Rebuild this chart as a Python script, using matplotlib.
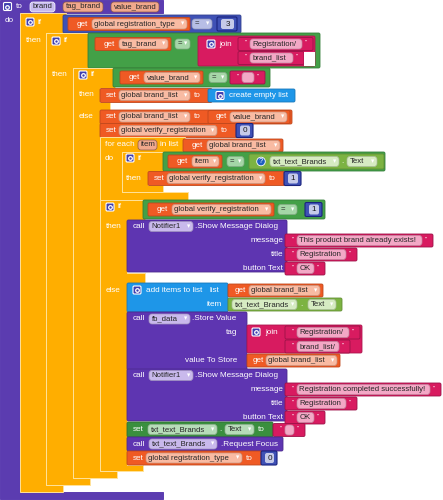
import matplotlib.pyplot as plt
import matplotlib.colors as mcolors
from matplotlib.patches import FancyBboxPatch, Polygon, Rectangle, Circle

# texts shown on the blocks
PARAMS = ['brand', 'tag_brand', 'value_brand']
GLOBAL_VARS = ['global registration_type', 'global brand_list', 'global verify_registration']
JOIN_1 = ['Registration/', 'brand_list']
JOIN_2 = ['Registration/', 'brand_list/']
DIALOG_SOCKETS = ['message', 'title', 'button Text']
DIALOG_1 = ['This product brand already exists!', 'Registration', 'OK']
DIALOG_2 = ['Registration completed successfully!', 'Registration', 'OK']
NUMBERS = ['3', '0', '1', '1', '0']
COMPONENTS = ['Notifier1', 'fb_data', 'txt_text_Brands']

# block colours
PROC = '#5B3CB0'
CTRL = '#FFAE00'
VAR = '#EF5A24'
MATH = '#3F51B5'
LOGIC = '#43A047'
TEXT = '#D81B60'
LIST = '#1E96E8'
CALL = '#5E35B1'
GET = '#7CB342'
SETC = '#3A8F3E'

VAR_F = '#F9BBA3'
MATH_F = '#B7BEE6'
LOGIC_F = '#A5D6A7'
TEXT_F = '#F3A8C6'
CALL_F = '#C9B9EC'
GET_F = '#D6EBC2'
SET_F = '#B6DCB8'
PROC_F = '#C9BCEF'
PARAM_F = '#F0A88C'

FS = 5.9
FS_FIELD = 5.55
plt.rcParams['font.family'] = ['Liberation Sans', 'DejaVu Sans']

fig = plt.figure(figsize=(4.43, 5.0), dpi=100)
ax = fig.add_axes([0, 0, 1, 1])
ax.set_xlim(0, 443)
ax.set_ylim(500, 0)
ax.axis('off')


def darker(c, f=0.8):
    r, g, b = mcolors.to_rgb(c)
    return (r * f, g * f, b * f)


def box(x0, y0, x1, y1, fc, ec='auto', lw=0.6, r=1.5):
    if ec == 'auto':
        ec = darker(fc)
    ax.add_patch(FancyBboxPatch((x0, y0), x1 - x0, y1 - y0,
                                boxstyle=f'round,pad=0,rounding_size={r}',
                                fc=fc, ec=ec, lw=lw))


def label(x, y, s, c='white', ha='left', fs=FS):
    ax.text(x, y, s, color=c, ha=ha, va='center', fontsize=fs)


def field(x0, x1, yc, s, bg, fg='#262626', arrow=True, h=10, ec='auto'):
    if ec == 'auto':
        ec = darker(bg, 0.8)
    box(x0, yc - h / 2, x1, yc + h / 2, bg, ec=ec, lw=0.5, r=3)
    label(x0 + 2.5, yc, s, c=fg, fs=FS_FIELD)
    if arrow:
        label(x1 - 2.5, yc, '▾', c='white', ha='right', fs=FS - 1.2)


def gear(x, y):
    box(x - 4, y - 4, x + 4, y + 4, '#3F3FB0', ec='white', lw=0.8, r=1.2)
    ax.plot(x, y, 'o', ms=2.6, mfc='none', mec='white', mew=0.9)


def c_shape(x0, col, segs, color=CTRL, ec='#FFE29A'):
    pts = [(x0, segs[0][0])]
    for i, (ys, ye, r) in enumerate(segs):
        pts += [(r, ys), (r, ye)]
        if i < len(segs) - 1:
            pts += [(col, ye), (col, segs[i + 1][0])]
    pts.append((x0, segs[-1][1]))
    ax.add_patch(Polygon(pts, closed=True, fc=color, ec=ec, lw=0.7))


def text_block(x0, x1, yc, s, h=13):
    box(x0, yc - h / 2, x1, yc + h / 2, TEXT, ec='#9C1248')
    label(x0 + 6.5, yc - 1.5, '"', fs=FS - 1.5)
    field(x0 + 12, x1 - 11, yc, s, TEXT_F, arrow=False, h=10)
    label(x1 - 8, yc - 1.5, '"', fs=FS - 1.5)


def num_block(x0, x1, yc, s, h=14):
    box(x0, yc - h / 2, x1, yc + h / 2, MATH, ec='#1A237E', lw=0.8)
    box(x0 + 4, yc - 5, x1 - 3, yc + 5, '#C5CAE9', ec='none', r=2)
    label((x0 + x1 + 1) / 2, yc, s, c='#1a1a1a', ha='center')


def get_block(x0, x1, yc, name, tx=9, fx=24, h=13):
    box(x0, yc - h / 2, x1, yc + h / 2, VAR)
    label(x0 + tx, yc, 'get')
    field(x0 + fx, x1 - 3, yc, name, VAR_F)


def set_block(x0, x1, yc, name, fx1, h=14):
    box(x0, yc - h / 2, x1, yc + h / 2, VAR)
    label(x0 + 6, yc, 'set')
    field(x0 + 19, fx1, yc, name, VAR_F)
    label(fx1 + 4, yc, 'to')


def dialog(y0, texts, ends):
    box(127, y0, 287, y0 + 52, CALL)
    label(133, y0 + 6.5, 'call')
    field(149, 193, y0 + 6.5, COMPONENTS[0], CALL_F)
    label(195, y0 + 6.5, '.Show Message Dialog')
    for i, (sock, msg) in enumerate(zip(DIALOG_SOCKETS, texts)):
        yc = y0 + 20.5 + 14 * i
        label(283, yc, sock, ha='right')
        text_block(285, ends[i], yc, msg)


# procedure
c_shape(0, 20, [(0, 13, 163), (492, 499, 163)], color=PROC, ec=PROC)
gear(7.5, 6.5)
label(16, 7, 'to')
field(30, 55, 7, PARAMS[0], PROC_F, arrow=False, ec='white')
field(63, 103, 7, PARAMS[1], PARAM_F, arrow=False, ec='#8a5a48')
field(111, 159, 7, PARAMS[2], PARAM_F, arrow=False, ec='#8a5a48')
label(5, 20, 'do')

# if 1
c_shape(20, 46, [(13, 33, 66), (485, 492, 63)])
gear(30, 22)
label(38, 22, 'if')
label(26, 41, 'then')
box(63, 15, 241, 33, MATH)
get_block(68, 190, 24, GLOBAL_VARS[0])
field(192, 212, 24, '=', MATH_F)
num_block(217, 237, 24, NUMBERS[0])

# if 2
c_shape(46, 73, [(33, 68, 90), (478, 485, 90)])
gear(56, 41)
label(64, 41, 'if')
label(52, 74, 'then')
box(88, 33, 320, 68, LOGIC)
get_block(95, 171, 44, PARAMS[1])
field(175, 190, 44, '=', LOGIC_F)
box(198, 36, 315, 66, TEXT)
gear(211, 44)
label(219, 44, 'join')
text_block(238, 313, 44, JOIN_1[0])
text_block(238, 304, 58, JOIN_1[1])
ax.add_patch(Rectangle((304.5, 51.5), 10.5, 14.5, fc='white', ec='none'))

# if 3
c_shape(73, 100, [(68, 88, 115), (102, 110, 110), (471, 478, 117)])
gear(83, 75)
label(91, 75, 'if')
label(79, 95, 'then')
label(79, 117, 'else')
box(113, 68, 270, 87, LOGIC)
get_block(120, 203, 77.5, PARAMS[2])
field(209, 227, 77.5, '=', LOGIC_F)
text_block(230, 265, 77.5, '')

set_block(100, 212, 95.5, GLOBAL_VARS[1], 190)
box(208, 89, 295, 102, LIST)
gear(220, 95.5)
label(229, 95.5, 'create empty list')

set_block(100, 292, 117, GLOBAL_VARS[1], 190)
get_block(208, 290, 117, PARAMS[2], tx=8, fx=22)
set_block(100, 240, 130.5, GLOBAL_VARS[2], 217)
num_block(236, 253, 130.5, NUMBERS[1])

# for each
c_shape(100, 122, [(137, 152, 185), (192, 200, 188)])
label(105, 145, 'for each')
field(138, 157, 145, 'item', PARAM_F, arrow=False, ec='#8a5a48')
label(160, 145, 'in list')
get_block(183, 283, 145.5, GLOBAL_VARS[1])
label(105, 158, 'do')

c_shape(122, 148, [(152, 172, 164), (185, 192, 163)])
gear(130, 158)
label(138, 158, 'if')
label(126, 178, 'then')
box(163, 152, 385, 171, LOGIC)
get_block(168, 222, 161.5, 'item')
field(227, 244, 161.5, '=', LOGIC_F)
box(249, 154, 384, 169, GET)
ax.add_patch(Circle((261, 161.5), 4.3, fc='#1E5FC0', ec='white', lw=0.6))
label(261, 161.5, '?', ha='center', fs=FS - 0.5)
field(270, 339, 161.5, COMPONENTS[2], GET_F)
label(341, 161.5, '.')
field(347, 377, 161.5, 'Text', GET_F)
set_block(148, 285, 178.5, GLOBAL_VARS[2], 265)
num_block(284, 301, 178.5, NUMBERS[2])

# if 4
c_shape(100, 127, [(200, 220, 145), (273, 283, 145), (465, 471, 143)])
gear(110, 207)
label(118, 207, 'if')
label(106, 227, 'then')
label(106, 290, 'else')
box(143, 200, 325, 219, LOGIC)
get_block(148, 274, 209.5, GLOBAL_VARS[2])
field(278, 297, 209.5, '=', LOGIC_F)
num_block(305, 322, 209.5, NUMBERS[3])

dialog(220, DIALOG_1, [433, 357, 325])

box(127, 283, 228, 312, LIST)
gear(137, 290)
label(146, 290, 'add items to list')
label(210, 290, 'list')
label(222, 304, 'item', ha='right')
get_block(228, 323, 290.5, GLOBAL_VARS[1], tx=7, fx=21)
box(228, 298, 342, 311, GET)
field(232, 297, 304.5, COMPONENTS[2], GET_F)
label(300, 304.5, '.')
field(308, 336, 304.5, 'Text', GET_F)

box(127, 312, 247, 370, CALL)
label(133, 319, 'call')
field(149, 190, 319, COMPONENTS[1], CALL_F)
label(192, 319, '.Store Value')
label(237, 332, 'tag', ha='right')
label(237, 360, 'value To Store', ha='right')
box(247, 325, 362, 353, TEXT)
gear(256, 332)
label(265, 332, 'join')
text_block(285, 360, 332.5, JOIN_2[0])
text_block(285, 350, 346.5, JOIN_2[1])
get_block(247, 340, 360.5, GLOBAL_VARS[1], tx=6, fx=19)

dialog(369, DIALOG_2, [441, 357, 325])

box(127, 422, 273, 437, SETC)
label(133, 429.5, 'set')
field(148, 217, 429.5, COMPONENTS[2], SET_F)
label(219, 429.5, '.')
field(225, 254, 429.5, 'Text', SET_F)
label(258, 429.5, 'to')
text_block(273, 305, 430, '')

box(127, 437, 283, 451, CALL)
label(133, 444, 'call')
field(149, 217, 444, COMPONENTS[2], CALL_F)
label(221, 444, '.Request Focus')

set_block(127, 262, 458, GLOBAL_VARS[0], 242)
num_block(261, 277, 458, NUMBERS[4])

fig.savefig('out.png', dpi=100)
